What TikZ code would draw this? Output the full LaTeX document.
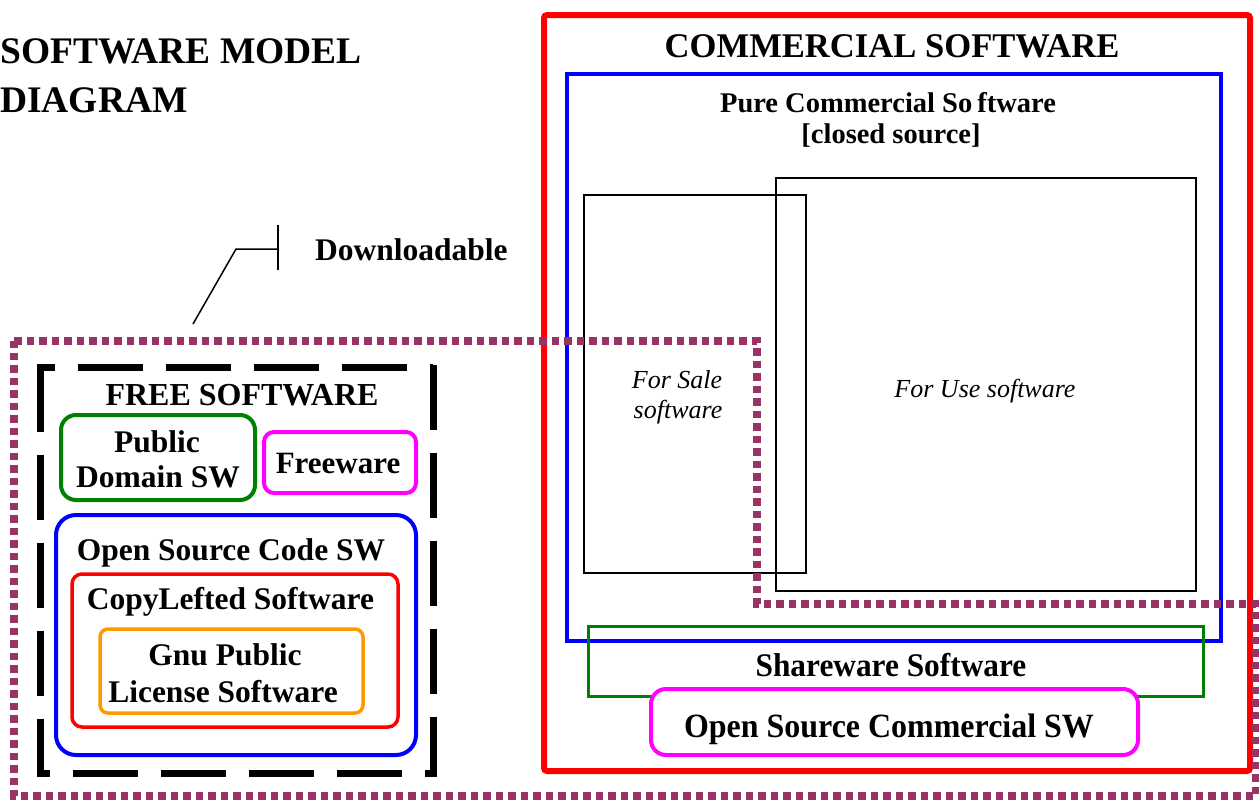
\documentclass[tikz,border=0pt]{standalone}
\usepackage{fontspec}
\usepackage{graphicx}
\setmainfont{Liberation Serif}
\definecolor{plum}{HTML}{993366}
\definecolor{orng}{HTML}{FF9900}
\definecolor{dgreen}{HTML}{008000}
\definecolor{mag}{HTML}{FF00FF}
\definecolor{pblue}{HTML}{0000FF}
\definecolor{pred}{HTML}{FF0000}
\begin{document}
\begin{tikzpicture}[x=1pt,y=-1pt,
  lbl/.style={inner sep=0pt,anchor=base,font=\bfseries\fontsize{31.5}{36}\selectfont},
  ttl/.style={inner sep=0pt,anchor=base west,font=\bfseries\fontsize{37.5}{42}\selectfont},
  ital/.style={inner sep=0pt,anchor=base,font=\itshape\fontsize{26}{30}\selectfont},
  dline/.style={line width=7pt,black,dash pattern=on 65pt off 23pt},
  dots/.style={line width=7.5pt,plum,dash pattern=on 7.5pt off 5pt},
  thinbox/.style={line width=1.5pt,black},
  callout/.style={line width=1.5pt,black}
]
\useasboundingbox (0,0) rectangle (1259,801);

% ---------- Commercial side ----------
\draw[pred,line width=6pt,rounded corners=3pt] (544,15) rectangle (1250,771);
\draw[pblue,line width=3.5pt] (567,74) rectangle (1221,641);
\draw[thinbox] (584,195) rectangle (806,573);
\draw[thinbox] (776,178) rectangle (1196,591);
\draw[dgreen,line width=3pt] (588,626) rectangle (1203,696);
\draw[mag,line width=4pt,rounded corners=15pt,fill=white] (651,689) rectangle (1138,755);

% ---------- Free software side ----------
\draw[dline,dash phase=47pt] (37,367) -- (433,367);
\draw[dline,dash phase=52pt] (37,773) -- (433,773);
\draw[dline] (40,367) -- (40,777);
\draw[dline] (433,365) -- (433,777);

\draw[dgreen,line width=4pt,rounded corners=15pt] (61,415) rectangle (255,500);
\draw[mag,line width=4pt,rounded corners=10pt] (264,432) rectangle (416,493);
\draw[pblue,line width=4pt,rounded corners=20pt] (56,515) rectangle (416,755);
\draw[pred,line width=3.5pt,rounded corners=10pt] (72,574) rectangle (398,727);
\draw[orng,line width=3.5pt,rounded corners=8pt] (100,629) rectangle (363,713);

% ---------- Downloadable region ----------
\draw[dots] (14,341) -- (757,341) -- (757,604) -- (1256,604) -- (1256,796) -- (14,796) -- cycle;

\coordinate (dlA) at (193,324);
\coordinate (dlB) at (236,249);
\coordinate (dlC) at (278,249);
\coordinate (tkT) at (278,225);
\coordinate (tkB) at (278,270);
\draw[callout] (dlA) -- (dlB) -- (dlC);
\draw[callout] (tkT) -- (tkB);

% ---------- Texts ----------
\node[ttl] (t1) at (0,63) {SOFTWARE MODEL};
\node[ttl] (t2) at (0,112) {DIAGRAM};
\node[lbl,anchor=base west] (dlt) at (315,260) {Downloadable};

\node[lbl,font=\bfseries\fontsize{34.6}{40}\selectfont] (com) at (892,57) {COMMERCIAL SOFTWARE};
\node[lbl,font=\bfseries\fontsize{28.5}{32}\selectfont] (pure1) at (888,112) {Pure Commercial So\kern5pt ftware};
\node[lbl,font=\bfseries\fontsize{28.5}{32}\selectfont] (pure2) at (891,143) {[closed source]};
\node[ital] (fs1) at (677,388) {For Sale};
\node[ital] (fs2) at (678,418) {software};
\node[ital] (fu) at (985,397) {For Use software};
\node[lbl,font=\bfseries\fontsize{33}{36}\selectfont] (share) at (891,676) {\scalebox{0.95}[1]{Shareware Software}};
\node[lbl,font=\bfseries\fontsize{34}{36}\selectfont] (osc) at (889,737) {\scalebox{0.94}[1]{Open Source Commercial SW}};

\node[lbl,font=\bfseries\fontsize{32}{36}\selectfont] (free) at (242,405) {FREE SOFTWARE};
\node[lbl] (pd1) at (157,452) {Public};
\node[lbl] (pd2) at (158,487) {Domain SW};
\node[lbl,font=\bfseries\fontsize{31}{36}\selectfont] (fw) at (338,473) {Freeware};
\node[lbl] (osw) at (231,560) {Open Source Code SW};
\node[lbl] (cl) at (230.5,609) {CopyLefted Software};
\node[lbl] (gnu1) at (225,665) {Gnu Public};
\node[lbl] (gnu2) at (223,702) {License Software};
\end{tikzpicture}
\end{document}
